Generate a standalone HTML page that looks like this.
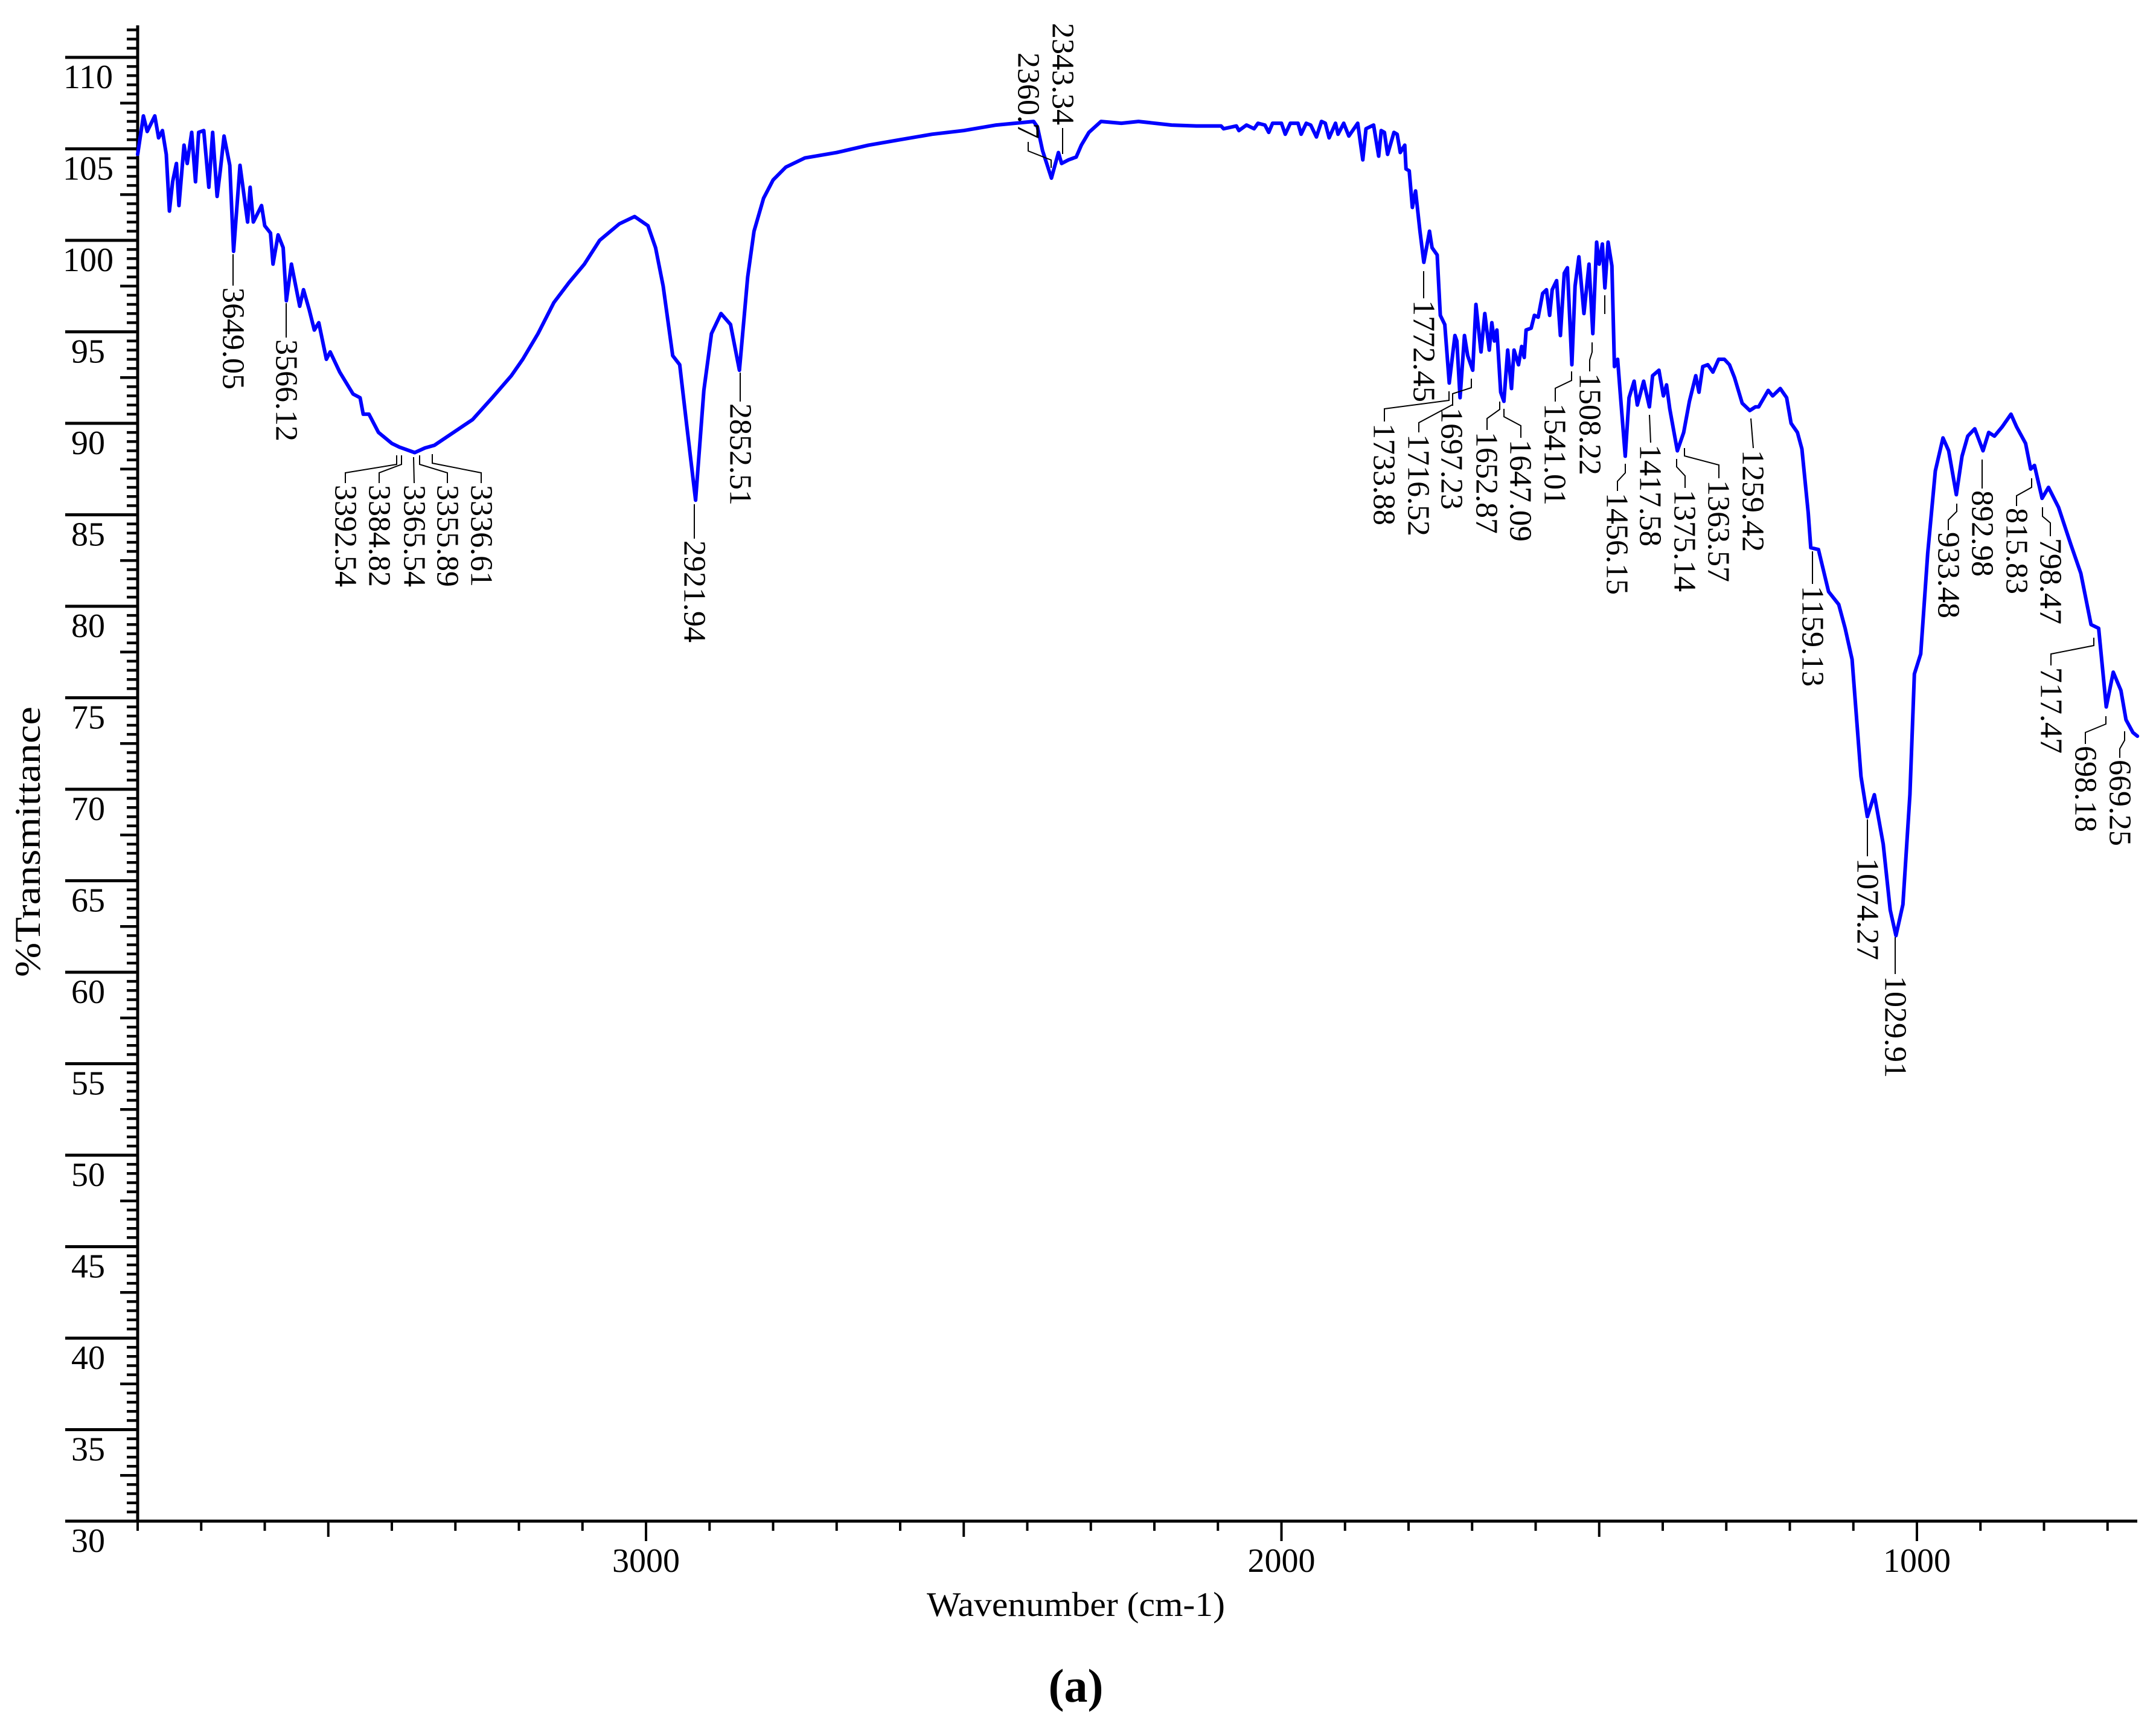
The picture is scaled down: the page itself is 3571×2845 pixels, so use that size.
<!DOCTYPE html>
<html><head><meta charset="utf-8"><title>FTIR spectrum (a)</title>
<style>
html,body{margin:0;padding:0;background:#fff;}
svg{display:block;}
text{font-family:"Liberation Serif","DejaVu Serif",serif;fill:#000;}
</style></head>
<body>
<svg id="chart" xmlns="http://www.w3.org/2000/svg" width="3571" height="2845" viewBox="0 0 3571 2845">
<rect x="0" y="0" width="3571" height="2845" fill="#fff"/>
<g id="axes"></g>
<g id="series"></g>
<g id="annots"></g>
<text x="1782" y="2676" font-size="57" text-anchor="middle" textLength="494" lengthAdjust="spacingAndGlyphs">Wavenumber (cm-1)</text>
<text transform="translate(66,1394) rotate(-90)" font-size="60" text-anchor="middle" textLength="448" lengthAdjust="spacingAndGlyphs">%Transmittance</text>
<text x="1782" y="2818" font-size="78" font-weight="bold" text-anchor="middle">(a)</text>
</svg>
<script>
// ---- data ----
const wavenumbers = [3800,3791,3785,3773,3767,3761,3755,3750,3745,3739,3735,3727,3722,3715,3709,3704,3696,3688,3682,3675,3670,3664,3655,3649,3639,3627,3623,3618,3605,3600,3591,3587,3579,3571,3566,3558,3545,3539,3530,3522,3515,3503,3497,3482,3461,3450,3445,3436,3421,3400,3388,3364,3348,3333,3303,3273,3242,3212,3194,3170,3145,3121,3097,3073,3042,3018,2997,2985,2973,2958,2947,2936,2922,2909,2897,2882,2867,2853,2840,2830,2815,2800,2780,2750,2700,2650,2600,2550,2500,2449,2390,2384,2376,2362,2351,2346,2335,2323,2315,2303,2284,2252,2225,2173,2134,2095,2091,2071,2067,2055,2043,2037,2026,2020,2014,2000,1994,1986,1974,1969,1961,1954,1945,1937,1931,1925,1915,1911,1902,1894,1880,1872,1867,1855,1847,1843,1838,1833,1823,1818,1813,1806,1804,1799,1794,1789,1782,1776,1767,1763,1755,1750,1743,1736,1727,1724,1719,1712,1707,1699,1694,1686,1680,1673,1669,1665,1661,1655,1650,1644,1638,1634,1627,1622,1618,1615,1607,1602,1596,1589,1583,1578,1574,1567,1561,1555,1550,1543,1538,1532,1524,1516,1510,1504,1500,1495,1491,1486,1480,1476,1471,1467,1459,1453,1445,1440,1430,1421,1416,1406,1399,1394,1389,1377,1367,1358,1348,1343,1337,1329,1321,1312,1303,1295,1287,1275,1263,1254,1249,1234,1227,1215,1205,1198,1188,1181,1171,1167,1155,1139,1123,1113,1102,1088,1078,1067,1053,1042,1033,1022,1011,1004,994,983,971,959,950,938,929,920,909,896,887,878,866,852,843,829,821,815,803,793,777,758,742,726,714,702,691,679,671,660,653];
const transmittance = [104.7,106.8,105.95,106.8,105.6,106.0,104.7,101.6,103.2,104.2,101.9,105.2,104.2,105.9,103.2,105.9,106.0,102.9,105.9,102.4,103.8,105.7,104.1,99.4,104.1,101.0,102.9,101.0,101.9,100.8,100.4,98.7,100.3,99.6,96.7,98.7,96.4,97.3,96.2,95.1,95.5,93.5,93.9,92.8,91.6,91.4,90.5,90.5,89.5,88.9,88.7,88.4,88.65,88.8,89.5,90.2,91.4,92.6,93.5,94.9,96.6,97.7,98.7,100.0,100.9,101.3,100.8,99.6,97.5,93.7,93.2,89.9,85.8,91.8,94.9,96.0,95.4,92.9,98.0,100.5,102.3,103.3,104.0,104.5,104.8,105.2,105.5,105.8,106.0,106.3,106.5,106.2,104.9,103.4,104.8,104.2,104.4,104.55,105.2,105.9,106.5,106.4,106.5,106.3,106.25,106.25,106.1,106.25,106.0,106.3,106.1,106.4,106.3,105.9,106.4,106.4,105.8,106.4,106.4,105.8,106.4,106.3,105.65,106.5,106.4,105.6,106.4,105.8,106.4,105.7,106.4,104.4,106.1,106.3,104.6,106.0,105.9,104.7,105.9,105.8,104.8,105.2,103.9,103.8,101.8,102.7,100.5,98.8,100.5,99.6,99.2,95.9,95.4,92.2,94.8,94.5,91.4,94.8,93.7,92.9,96.5,93.9,96.0,94.0,95.5,94.5,95.1,91.7,91.2,94.0,91.9,94.0,93.2,94.2,93.6,95.1,95.2,95.9,95.8,97.1,97.3,95.9,97.3,97.8,94.8,98.2,98.5,93.2,97.5,99.1,96.0,98.7,94.9,99.9,98.7,99.8,97.4,99.9,98.6,93.1,93.5,91.7,88.2,91.4,92.3,91.0,92.3,90.9,92.6,92.9,91.5,92.1,90.8,88.5,89.5,91.2,92.6,91.7,93.1,93.2,92.8,93.5,93.5,93.2,92.5,91.1,90.7,90.9,90.9,91.8,91.5,91.9,91.4,90.0,89.5,88.6,85.1,83.2,83.1,80.8,80.1,78.8,77.1,70.7,68.5,69.7,67.0,63.4,62.0,63.7,69.7,76.3,77.4,82.9,87.4,89.2,88.5,86.1,88.2,89.3,89.7,88.5,89.5,89.3,89.8,90.5,89.8,88.9,87.5,87.7,85.9,86.5,85.4,83.4,81.8,79.0,78.8,74.5,76.4,75.4,73.8,73.1,72.9];
const yTickLabels = [30,35,40,45,50,55,60,65,70,75,80,85,90,95,100,105,110];
const xTickLabels = [3000,2000,1000];

// ---- axis functions ----
const X0 = 228, W0 = 3800, PXW = 1.0525;
const Y0 = 95, V0 = 110, PXV = 30.3;
function xs(w){ return X0 + (W0 - w) * PXW; }
function ys(v){ return Y0 + (V0 - v) * PXV; }
const NS = 'http://www.w3.org/2000/svg';
function mk(tag, attrs, parent){ const e = document.createElementNS(NS, tag); for (const k in attrs) e.setAttribute(k, attrs[k]); parent.appendChild(e); return e; }

const axes = document.getElementById('axes');
const yAxisBottom = ys(30), xAxisRight = 3540;
let yl = mk('line', {x1:X0, y1:42, x2:X0, y2:yAxisBottom+2, stroke:'#000','stroke-width':5}, axes);


let xl = mk('line', {x1:X0-2, y1:yAxisBottom, x2:xAxisRight, y2:yAxisBottom, stroke:'#000','stroke-width':5}, axes);



for (let i = 0; i <= 163; i++) {
  const v = 30 + i * 0.5;
  const y = ys(v);
  let x1;
  if (i % 10 === 0) x1 = 108; else if (i % 5 === 0) x1 = 199; else x1 = 210;
  const t = mk('line', {x1:x1, y1:y, x2:X0, y2:y, stroke:'#000','stroke-width':(i%10===0?5:4.5)}, axes);
  
  
}
yTickLabels.forEach(v => {
  const t = mk('text', {x:146, y:ys(v)+51, 'font-size':56, 'text-anchor':'middle'}, axes);
  t.textContent = String(v);
  
  
});
for (let w = 3800; w >= 700; w -= 100) {
  const x = xs(w);
  let len = 16;
  if (w % 1000 === 0) len = 33; else if (w % 500 === 0) len = 26;
  const t = mk('line', {x1:x, y1:yAxisBottom, x2:x, y2:yAxisBottom+len, stroke:'#000','stroke-width':4}, axes);
  
  
}
xTickLabels.forEach(w => {
  const t = mk('text', {x:xs(w), y:2603, 'font-size':56, 'text-anchor':'middle'}, axes);
  t.textContent = String(w);
  
  
});

// ---- series ----
const series = document.getElementById('series');
const pts = wavenumbers.map((w, i) => xs(w).toFixed(1) + ',' + ys(transmittance[i]).toFixed(1)).join(' ');
const line = mk('polyline', {points:pts, fill:'none', stroke:'#0000ff','stroke-width':6,'stroke-linejoin':'round','stroke-linecap':'round'}, series);



// ---- peak annotations ----
const peakTexts = ['3649.05','3566.12','3392.54','3384.82','3365.54','3355.89','3336.61','2921.94','2852.51','2360.7','2343.34','1772.45','1733.88','1716.52','1697.23','1652.87','1647.09','1541.01','1508.22','1456.15','1417.58','1375.14','1363.57','1259.42','1159.13','1074.27','1029.91','933.48','892.98','815.83','798.47','717.47','698.18','669.25'];
const labelLayout = [
 [386,473,'start',[[386,421],[386,473]]],
 [474,559,'start',[[474,502],[474,559]]],
 [572,800,'start',[[657,754],[657,769],[572,783],[572,800]]],
 [628,800,'start',[[665,754],[665,769],[628,783],[628,800]]],
 [686,800,'start',[[685,757],[686,800]]],
 [741,800,'start',[[695,754],[695,769],[741,783],[741,800]]],
 [797,800,'start',[[716,752],[716,767],[797,783],[797,800]]],
 [1150,892,'start',[[1150,835],[1150,892]]],
 [1226,665,'start',[[1226,617],[1226,665]]],
 [1703,233,'end',[[1741,278],[1741,265],[1703,250],[1703,235]]],
 [1760,210,'end',[[1760,255],[1760,212]]],
 [2358,494,'start',[[2358,449],[2358,494]]],
 [2292,698,'start',[[2400,648],[2400,663],[2293,677],[2293,698]]],
 [2349,716,'start',[[2406,662],[2406,670],[2350,700],[2350,716]]],
 [2404,672,'start',[[2437,627],[2437,642],[2406,652],[2406,672]]],
 [2462,712,'start',[[2484,665],[2484,678],[2463,693],[2463,712]]],
 [2518,725,'start',[[2491,677],[2491,690],[2519,705],[2519,725]]],
 [2575,665,'start',[[2603,615],[2603,630],[2576,643],[2576,665]]],
 [2633,615,'start',[[2637,567],[2637,583],[2633,596],[2633,615]]],
 [2678,813,'start',[[2692,768],[2692,783],[2679,797],[2679,813]]],
 [2733,733,'start',[[2732,687],[2734,733]]],
 [2790,808,'start',[[2777,760],[2777,773],[2791,788],[2791,808]]],
 [2846,792,'start',[[2790,742],[2790,755],[2847,770],[2847,792]]],
 [2903,742,'start',[[2900,693],[2902,718],[2904,742]]],
 [3002,967,'start',[[3002,913],[3002,967]]],
 [3093,1418,'start',[[3093,1357],[3093,1418]]],
 [3139,1613,'start',[[3139,1552],[3139,1613]]],
 [3227,878,'start',[[3241,834],[3241,847],[3227,861],[3227,878]]],
 [3283,809,'start',[[3283,761],[3283,809]]],
 [3340,838,'start',[[3365,792],[3365,807],[3340,821],[3340,838]]],
 [3396,888,'start',[[3383,840],[3383,855],[3396,866],[3396,888]]],
 [3397,1102,'start',[[3468,1056],[3468,1069],[3397,1083],[3397,1102]]],
 [3454,1232,'start',[[3488,1186],[3488,1199],[3454,1213],[3454,1232]]],
 [3511,1255,'start',[[3519,1211],[3519,1226],[3511,1240],[3511,1255]]]
];
const annots = document.getElementById('annots');
const orphan = mk('line', {x1:2658, y1:489, x2:2658, y2:520, stroke:'#000','stroke-width':2}, annots);


peakTexts.forEach((txt, i) => {
  const L = labelLayout[i];
  const pl = mk('polyline', {points:L[3].map(p => p.join(',')).join(' '), fill:'none', stroke:'#000','stroke-width':2}, annots);
  
  
  const off = L[2] === 'start' ? 3 : -3;
  const t = mk('text', {transform:'translate(' + L[0] + ',' + (L[1] + off) + ') rotate(90)', 'font-size':52, 'text-anchor':L[2], 'dominant-baseline':'central'}, annots);
  t.textContent = txt;
  
  
});
</script>
</body></html>
